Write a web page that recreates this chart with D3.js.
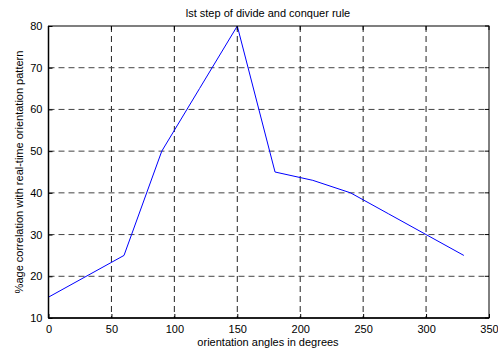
<!DOCTYPE html>
<html><head><meta charset="utf-8">
<script src="https://cdn.jsdelivr.net/npm/d3@7"></script>
<style>body{margin:0;background:#fff}svg{display:block}text{font-family:"Liberation Sans",Arial,sans-serif;fill:#000}</style>
</head><body>
<svg id="c" width="498" height="351"></svg>
<script>
const angles = [0, 60, 90, 120, 150, 180, 210, 240, 270, 300, 330];
const correlation = [15, 25, 50, 65, 80, 45, 43, 40, 35, 30, 25];
const xTicks = [0, 50, 100, 150, 200, 250, 300, 350];
const yTicks = [10, 20, 30, 40, 50, 60, 70, 80];

const svg = d3.select("#c");
const L = 48.5, R = 489, T = 26, B = 318;
const x = d3.scaleLinear().domain([0, 350]).range([L, R]);
const y = d3.scaleLinear().domain([10, 80]).range([B, T]);

// grid
const g = svg.append("g");
g.selectAll(".vx").data(xTicks.slice(1, -1)).enter().append("line")
  .attr("x1", d => x(d)).attr("x2", d => x(d)).attr("y1", T).attr("y2", B)
  .attr("stroke", "#222").attr("stroke-dasharray", "6,4").attr("stroke-width", 1);
g.selectAll(".hy").data(yTicks.slice(1, -1)).enter().append("line")
  .attr("y1", d => y(d)).attr("y2", d => y(d)).attr("x1", L).attr("x2", R)
  .attr("stroke", "#444").attr("stroke-dasharray", "6,4").attr("stroke-width", 1);

// line
const line = d3.line().x((d, i) => x(angles[i])).y(d => y(d));
svg.append("path").datum(correlation).attr("d", line)
  .attr("fill", "none").attr("stroke", "#0000ff").attr("stroke-width", 1);

// box
svg.append("rect").attr("x", L).attr("y", T).attr("width", R - L).attr("height", B - T)
  .attr("fill", "none").attr("stroke", "#000").attr("stroke-width", 1);
svg.append("line").attr("x1", L).attr("x2", L).attr("y1", T).attr("y2", B).attr("stroke", "#000").attr("stroke-width", 1.5);
svg.append("line").attr("x1", L).attr("x2", R).attr("y1", B).attr("y2", B).attr("stroke", "#000").attr("stroke-width", 1.5);

// axes
const xa = svg.append("g").attr("transform", `translate(0,${B})`)
  .call(d3.axisBottom(x).tickValues(xTicks).tickSize(-4).tickPadding(7).tickFormat(d3.format("d")));
const ya = svg.append("g").attr("transform", `translate(${L},0)`)
  .call(d3.axisLeft(y).tickValues(yTicks).tickSize(-4).tickPadding(6).tickFormat(d3.format("d")));
[xa, ya].forEach(a => {
  a.select(".domain").remove();
  a.selectAll("text").style("font-size", "11px").style("font-family", '"Liberation Sans",Arial,sans-serif').attr("fill", "#000");
  a.selectAll(".tick line").attr("stroke", "#000");
});
// right ticks
svg.selectAll(".rt").data(yTicks).enter().append("line")
  .attr("x1", R).attr("x2", R - 4).attr("y1", d => y(d)).attr("y2", d => y(d)).attr("stroke", "#000");
svg.selectAll(".tt").data(xTicks).enter().append("line")
  .attr("y1", T).attr("y2", T + 4).attr("x1", d => x(d)).attr("x2", d => x(d)).attr("stroke", "#000");

// labels
svg.append("text").attr("x", 268).attr("y", 17).attr("text-anchor", "middle")
  .style("font-size", "11px").text("lst step of divide and conquer rule");
svg.append("text").attr("x", 268).attr("y", 346).attr("text-anchor", "middle")
  .style("font-size", "11px").text("orientation angles in degrees");
svg.append("text").attr("transform", `translate(23,${(T + B) / 2}) rotate(-90)`).attr("text-anchor", "middle")
  .style("font-size", "11px").text("%age correlation with real-time orientation pattern");
</script>
</body></html>
